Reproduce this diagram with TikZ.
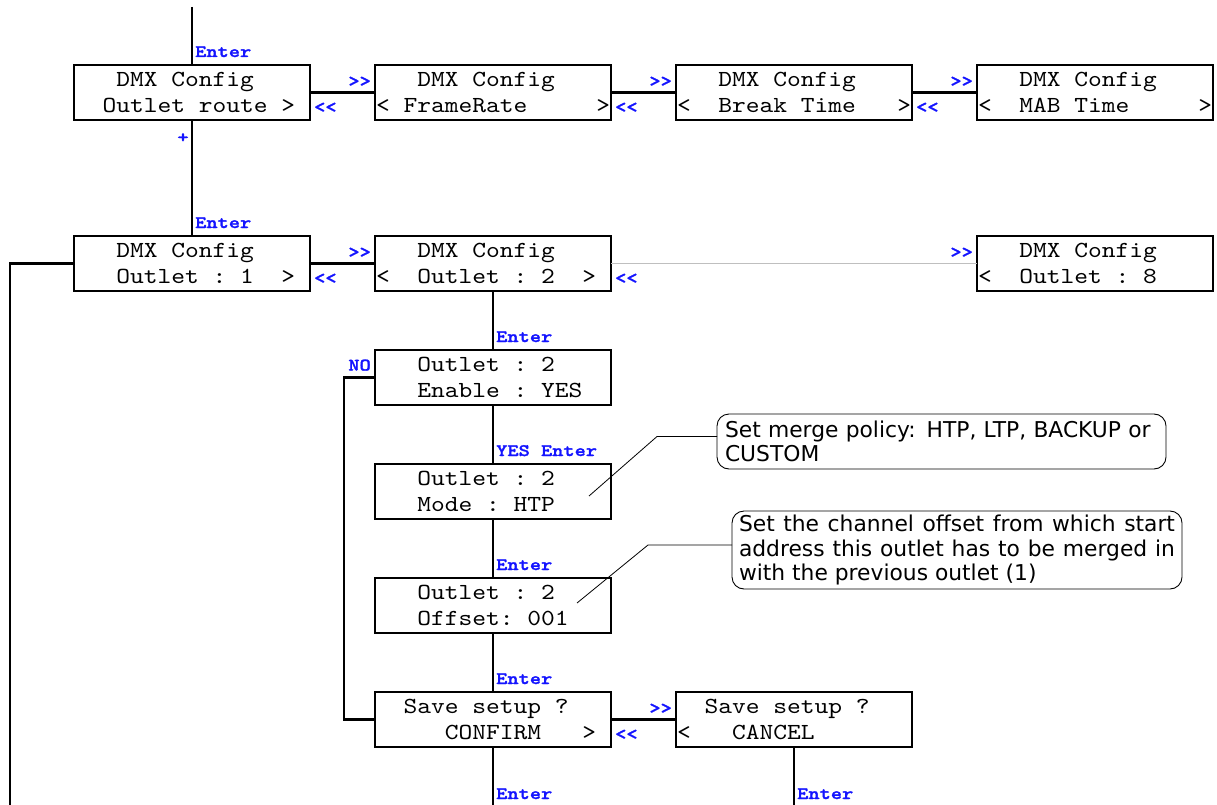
\documentclass[tikz,border=0pt]{standalone}
\usepackage{fontspec}
\usetikzlibrary{positioning}
\newfontfamily\lcdfont{lmmono10-regular}[Extension=.otf, FakeStretch=1.14]
\newfontfamily\tastofont{lmmonolt10-bold}[Extension=.otf, FakeStretch=1.22, FakeBold=1.6]
\newfontfamily\notefont{DejaVu Sans}
\definecolor{tastoblu}{RGB}{20,20,255}
% una cella vuota del display
\newcommand{\vu}{\mbox{\phantom{x}}}

\begin{document}
\begin{tikzpicture}[x=1pt, y=-1pt,
    lcd/.style={draw, line width=2.9pt, outer sep=0pt, inner xsep=1pt,
                text width=234pt, minimum height=55pt, align=left,
                font=\lcdfont\fontsize{23}{26}\selectfont},
    tasto/.style={text=tastoblu, inner sep=0pt,
                  font=\tastofont\fontsize{17.5}{18}\selectfont},
    linea/.style={line width=2.7pt},
    grigia/.style={line width=1pt, draw=black!25},
    nota/.style={draw, rounded corners=12pt, line width=0.9pt, outer sep=0pt,
                 anchor=north west, font=\notefont\fontsize{21.8}{24.5}\selectfont},
    guida/.style={line width=0.8pt}]

    \useasboundingbox (0,0) rectangle (1217,805);

    % Menu DMX Config
    \node[lcd] (b1) at (192,92.5) {\vu\vu\vu DMX\vu Config\\\vu\vu Outlet\vu route\vu>};
    \node[lcd, right=65pt of b1] (b2) {\vu\vu\vu DMX\vu Config\\<\vu FrameRate\vu\vu\vu\vu\vu>};
    \node[lcd, right=65pt of b2] (b3) {\vu\vu\vu DMX\vu Config\\<\vu\vu Break\vu Time\vu\vu\vu>};
    \node[lcd, right=65pt of b3] (b4) {\vu\vu\vu DMX\vu Config\\<\vu\vu MAB\vu Time\vu\vu\vu\vu\vu>};

    % Uscite
    \node[lcd, below=116pt of b1] (c1) {\vu\vu\vu DMX\vu Config\\\vu\vu\vu Outlet\vu:\vu 1\vu\vu>};
    \node[lcd, right=65pt of c1] (c2) {\vu\vu\vu DMX\vu Config\\<\vu\vu Outlet\vu:\vu 2\vu\vu>};
    \node[lcd, below=116pt of b4] (c8) {\vu\vu\vu DMX\vu Config\\<\vu\vu Outlet\vu:\vu 8};

    % Impostazioni dell'uscita 2
    \node[lcd, below=59pt of c2] (d1) {\vu\vu\vu Outlet\vu:\vu 2\\\vu\vu\vu Enable\vu:\vu YES};
    \node[lcd, below=59pt of d1] (d2) {\vu\vu\vu Outlet\vu:\vu 2\\\vu\vu\vu Mode\vu:\vu HTP};
    \node[lcd, below=59pt of d2] (d3) {\vu\vu\vu Outlet\vu:\vu 2\\\vu\vu\vu Offset:\vu 001};
    \node[lcd, below=59pt of d3] (d4) {\vu\vu Save\vu setup\vu ?\\\vu\vu\vu\vu\vu CONFIRM\vu\vu\vu>};
    \node[lcd, right=65pt of d4] (d5) {\vu\vu Save\vu setup\vu ?\\<\vu\vu\vu CANCEL};

    % Note
    \node[nota, inner xsep=8pt, text width=433pt, minimum height=55pt, align=left]
        (na) at (717,414) {Set merge policy: HTP, LTP, BACKUP or\\CUSTOM};
    \node[nota, inner xsep=7pt, text width=436pt, minimum height=78pt, align=justify]
        (nb) at (732,511) {Set the channel offset from which start\linebreak
        address this outlet has to be merged in\linebreak with the previous outlet (1)};

    \coordinate (alto) at (192,7);
    \coordinate (fondo) at (10,806);
    \coordinate (pa) at (589,496);
    \coordinate (pb) at (577,603);

    % Collegamenti
    \draw[linea] (alto) -- (b1);
    \draw[linea] (b1) -- (b2);
    \draw[linea] (b2) -- (b3);
    \draw[linea] (b3) -- (b4);
    \draw[linea] (b1) -- (c1);
    \draw[linea] (c1) -- (c2);
    \draw[grigia] (c2) -- (c8);
    \draw[linea] (c1) -| (fondo);
    \draw[linea] (c2) -- (d1);
    \draw[linea] (d1) -- (d2);
    \draw[linea] (d2) -- (d3);
    \draw[linea] (d3) -- (d4);
    \draw[linea] (d1.west) -- ++(-31pt,0) |- (d4.west);
    \draw[linea] (d4) -- (d5);
    \draw[linea] (d4) -- (d4 |- fondo);
    \draw[linea] (d5) -- (d5 |- fondo);

    \draw[guida] (pa) -- ([xshift=-60pt, yshift=5pt]na.west) -- ([yshift=5pt]na.west);
    \draw[guida] (pb) -- ([xshift=-84pt, yshift=5pt]nb.west) -- ([yshift=5pt]nb.west);

    % Tasti
    \node[tasto, anchor=base west] (k1) at ([xshift=3pt, yshift=8pt]b1.north) {Enter};
    \node[tasto, anchor=center] (k2) at ([xshift=-9pt, yshift=-18pt]b1.south) {+};
    \node[tasto, anchor=base west] (k3) at ([xshift=3pt, yshift=8pt]c1.north) {Enter};
    \node[tasto, anchor=base west] (k4) at ([xshift=3pt, yshift=8pt]d1.north) {Enter};
    \node[tasto, anchor=base west] (k5) at ([xshift=3pt, yshift=8pt]d2.north) {YES Enter};
    \node[tasto, anchor=base west] (k6) at ([xshift=3pt, yshift=8pt]d3.north) {Enter};
    \node[tasto, anchor=base west] (k7) at ([xshift=3pt, yshift=8pt]d4.north) {Enter};
    \node[tasto, anchor=base west] (k8) at ([xshift=3pt, yshift=-52pt]d4.south) {Enter};
    \node[tasto, anchor=base west] (k9) at ([xshift=3pt, yshift=-52pt]d5.south) {Enter};
    \node[tasto, anchor=base east] (k10) at ([xshift=-4pt, yshift=7pt]d1.west) {NO};

    \node[tasto, anchor=base east] (f1) at ([xshift=-4pt, yshift=6pt]b2.west) {>>};
    \node[tasto, anchor=base east] (f2) at ([xshift=-4pt, yshift=6pt]b3.west) {>>};
    \node[tasto, anchor=base east] (f3) at ([xshift=-4pt, yshift=6pt]b4.west) {>>};
    \node[tasto, anchor=base east] (f4) at ([xshift=-4pt, yshift=6pt]c2.west) {>>};
    \node[tasto, anchor=base east] (f5) at ([xshift=-4pt, yshift=6pt]c8.west) {>>};
    \node[tasto, anchor=base east] (f6) at ([xshift=-4pt, yshift=6pt]d5.west) {>>};

    \node[tasto, anchor=base west] (g1) at ([xshift=4pt, yshift=-20pt]b1.east) {<<};
    \node[tasto, anchor=base west] (g2) at ([xshift=4pt, yshift=-20pt]b2.east) {<<};
    \node[tasto, anchor=base west] (g3) at ([xshift=4pt, yshift=-20pt]b3.east) {<<};
    \node[tasto, anchor=base west] (g4) at ([xshift=4pt, yshift=-20pt]c1.east) {<<};
    \node[tasto, anchor=base west] (g5) at ([xshift=4pt, yshift=-20pt]c2.east) {<<};
    \node[tasto, anchor=base west] (g6) at ([xshift=4pt, yshift=-20pt]d4.east) {<<};

\end{tikzpicture}
\end{document}
